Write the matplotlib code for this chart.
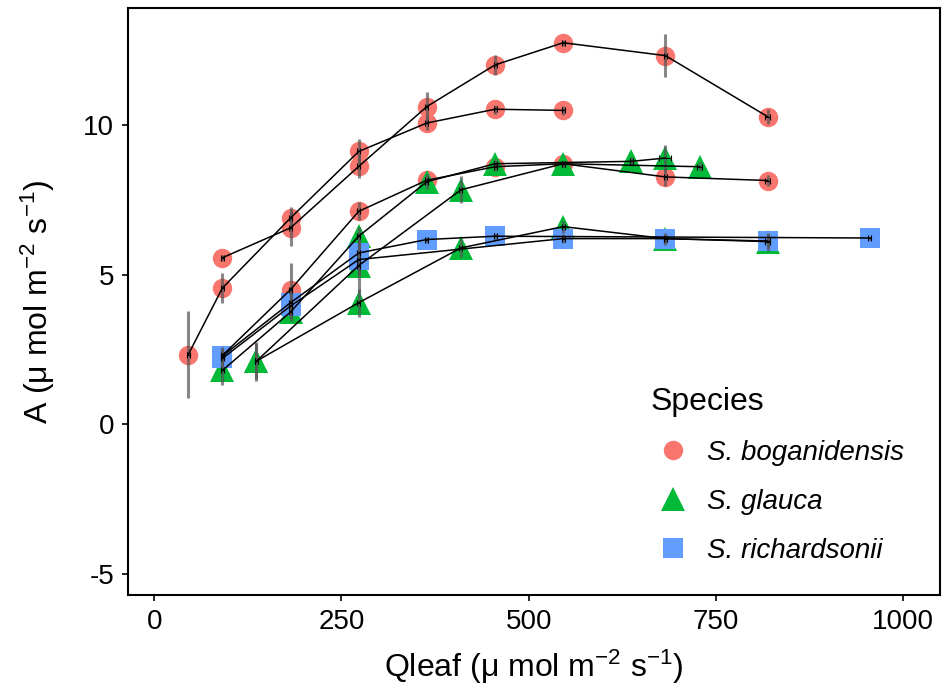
import matplotlib
matplotlib.use("Agg")
import matplotlib.pyplot as plt
from matplotlib.lines import Line2D

plt.rcParams['font.family'] = ['Liberation Sans', 'DejaVu Sans']
plt.rcParams['mathtext.fontset'] = 'custom'
plt.rcParams['mathtext.rm'] = 'Liberation Sans'
plt.rcParams['mathtext.it'] = 'Liberation Sans:italic'

# species -> colour / marker (ggplot defaults)
species = ["S. boganidensis", "S. glauca", "S. richardsonii"]
colors = ["#F8766D", "#00BA38", "#619CFF"]
markers = ["o", "^", "s"]
msizes = [14, 17, 14]

# light-response curves (Qleaf, A, sd of A, sd of Qleaf)
bog1_x = [45.5, 91, 182, 273, 364, 455, 546]
bog1_y = [2.33, 4.55, 6.89, 9.11, 10.06, 10.52, 10.48]
bog1_ye = [1.45, 0.5, 0.35, 0.4, 0.25, 0.15, 0.15]
bog1_xe = [2, 2, 2, 2, 2, 2, 2]

bog2_x = [91, 182, 273, 364, 455, 546, 682.5, 819]
bog2_y = [5.56, 6.56, 8.61, 10.61, 12.0, 12.74, 12.31, 10.27]
bog2_ye = [0.1, 0.6, 0.4, 0.5, 0.33, 0.1, 0.73, 0.25]
bog2_xe = [2, 2, 2, 2, 2, 2, 2, 3]

bog3_x = [91, 182, 273, 364, 455, 546, 682.5, 819]
bog3_y = [2.3, 4.5, 7.11, 8.15, 8.6, 8.7, 8.26, 8.14]
bog3_ye = [0.2, 0.9, 0.3, 0.15, 0.15, 0.1, 0.3, 0.2]
bog3_xe = [2, 2, 2, 2, 2, 2, 2, 3]

gla1_x = [91, 182, 273, 364, 455, 637, 682.5]
gla1_y = [1.8, 3.75, 6.28, 8.1, 8.7, 8.78, 8.89]
gla1_ye = [0.5, 0.3, 0.3, 0.25, 0.15, 0.15, 0.42]
gla1_xe = [2, 2, 2, 2, 2, 2, 8]

gla2_x = [136.5, 273, 409.5, 546, 728]
gla2_y = [2.11, 5.3, 7.83, 8.7, 8.6]
gla2_ye = [0.65, 0.9, 0.45, 0.1, 0.15]
gla2_xe = [2, 2, 2, 2, 3]

gla3_x = [136.5, 273, 409.5, 546, 682.5, 819]
gla3_y = [2.11, 4.06, 5.89, 6.6, 6.2, 6.1]
gla3_ye = [0.6, 0.47, 0.3, 0.2, 0.2, 0.3]
gla3_xe = [2, 2, 2, 2, 2, 3]

ric1_x = [91, 182, 273, 364, 455, 955.5]
ric1_y = [2.28, 4.06, 5.72, 6.17, 6.28, 6.22]
ric1_ye = [0.3, 0.5, 0.7, 0.1, 0.1, 0.05]
ric1_xe = [2, 2, 2, 2, 2, 2]

ric2_x = [91, 182, 273, 546, 682.5, 819]
ric2_y = [2.2, 3.95, 5.5, 6.2, 6.2, 6.12]
ric2_ye = [0.3, 0.4, 0.5, 0.15, 0.15, 0.25]
ric2_xe = [2, 2, 2, 2, 2, 3]

curves = [
    (0, bog1_x, bog1_y, bog1_ye, bog1_xe),
    (0, bog2_x, bog2_y, bog2_ye, bog2_xe),
    (0, bog3_x, bog3_y, bog3_ye, bog3_xe),
    (1, gla1_x, gla1_y, gla1_ye, gla1_xe),
    (1, gla2_x, gla2_y, gla2_ye, gla2_xe),
    (1, gla3_x, gla3_y, gla3_ye, gla3_xe),
    (2, ric1_x, ric1_y, ric1_ye, ric1_xe),
    (2, ric2_x, ric2_y, ric2_ye, ric2_xe),
]

fig = plt.figure(figsize=(9.44, 6.95), dpi=100)
ax = fig.add_axes([128/944, 1 - 595/695, 812/944, 587/695])

for sp, x, y, ye, xe in curves:
    ax.plot(x, y, linestyle="none", marker=markers[sp], color=colors[sp],
            markersize=msizes[sp], markeredgewidth=0, zorder=2)
for sp, x, y, ye, xe in curves:
    ax.errorbar(x, y, yerr=ye, fmt="none", ecolor="#555555", alpha=0.7,
                elinewidth=2.2, capsize=0, zorder=3)
    ax.errorbar(x, y, xerr=xe, fmt="none", ecolor="black",
                elinewidth=0.8, capsize=2, capthick=0.8, zorder=4)
    ax.plot(x, y, color="black", linewidth=1.1, zorder=5)

ax.set_xlim(-35, 1049)
ax.set_ylim(-5.7, 13.9)
ax.set_xticks([0, 250, 500, 750, 1000])
ax.set_yticks([-5, 0, 5, 10])
ax.set_yticklabels(["-5", "0", "5", "10"])
ax.tick_params(labelsize=20, length=4, width=1.2, colors="black", pad=6)
for s in ax.spines.values():
    s.set_linewidth(1.5)

ax.set_xlabel("Qleaf (μ mol m$^{-2}$ s$^{-1}$)", fontsize=23, labelpad=9)
ax.set_ylabel("A (μ mol m$^{-2}$ s$^{-1}$)", fontsize=23, labelpad=19)

handles = [Line2D([], [], linestyle="none", marker=markers[i], color=colors[i],
                  markersize=msizes[i], markeredgewidth=0) for i in range(3)]
leg = ax.legend(handles, species, title="Species", loc="upper left",
                bbox_to_anchor=(0.626, 0.378), frameon=False,
                prop={"style": "italic", "size": 20}, title_fontsize=23,
                alignment="left", borderpad=0, handlelength=1.65,
                handletextpad=0.4, labelspacing=0.83)

fig.savefig("out.png", dpi=100)
